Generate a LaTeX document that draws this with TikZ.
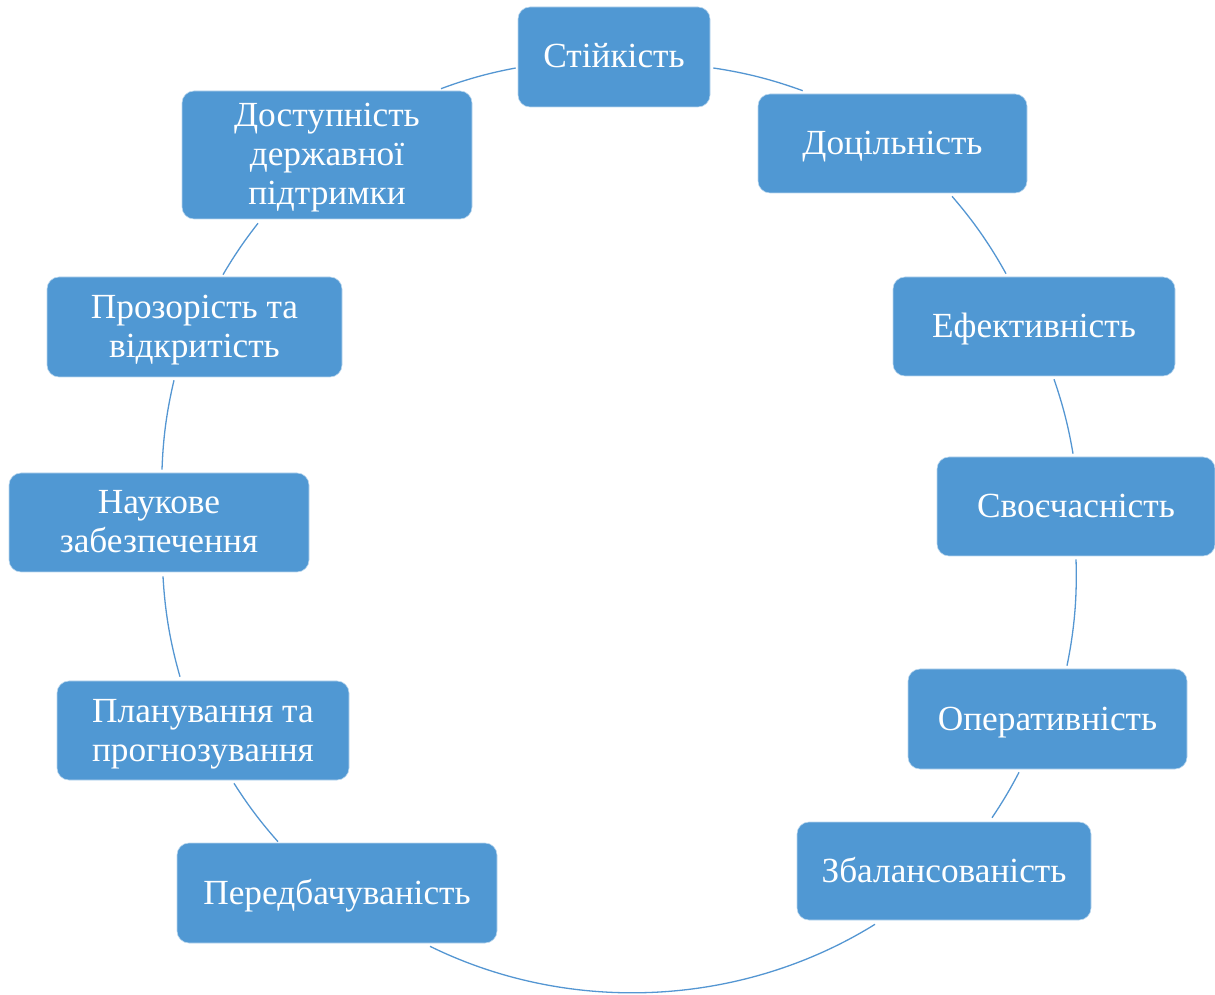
\documentclass[tikz,border=0pt]{standalone}
\usepackage{fontspec}
\setmainfont{Liberation Serif}
\usetikzlibrary{calc}
\definecolor{boxblue}{RGB}{80,152,211}
\definecolor{lineblue}{RGB}{84,150,210}
\newcommand\lnstrut{\rule[-8pt]{0pt}{38pt}}
\tikzset{
  stage/.style={rectangle, rounded corners=12pt, fill=boxblue, draw=white!60!boxblue, line width=0.6pt,
    text=white, align=center, inner sep=0pt, font=\fontsize{35.3}{37.5}\selectfont},
  ring/.style={draw=lineblue, line width=1.3pt, looseness=0.9},
}
\begin{document}
\begin{tikzpicture}[x=1pt,y=1pt]
\useasboundingbox (0,0) rectangle (1215,994);
\node[stage, minimum width=192pt, minimum height=100pt] (n1) at (614,937) {\lnstrut Стійкість};
\node[stage, minimum width=269pt, minimum height=99pt] (n2) at (892.5,850.5) {\lnstrut Доцільність};
\node[stage, minimum width=282pt, minimum height=99pt] (n3) at (1034,667.5) {\lnstrut Ефективність};
\node[stage, minimum width=278pt, minimum height=99pt] (n4) at (1076,487.5) {\lnstrut Своєчасність};
\node[stage, minimum width=279pt, minimum height=100pt] (n5) at (1047.5,275) {\lnstrut Оперативність};
\node[stage, minimum width=294pt, minimum height=98pt] (n6) at (944,123) {\lnstrut Збалансованість};
\node[stage, minimum width=320pt, minimum height=100pt] (n7) at (337,101) {\lnstrut Передбачуваність};
\node[stage, minimum width=292pt, minimum height=99pt] (n8) at (203,263.5) {\lnstrut Планування та\\\lnstrut прогнозування};
\node[stage, minimum width=300pt, minimum height=99pt] (n9) at (159,471.5) {\lnstrut Наукове\\\lnstrut забезпечення};
\node[stage, minimum width=295pt, minimum height=100pt] (n10) at (194.5,667) {\lnstrut Прозорість та\\\lnstrut відкритість};
\node[stage, minimum width=290pt, minimum height=128pt] (n11) at (327,839) {\lnstrut Доступність\\\lnstrut державної\\\lnstrut підтримки};

\coordinate (s1a) at ($(n1.east)+(3,-11)$);
\coordinate (s1b) at ($(n2.north west)+(45,3)$);
\coordinate (s2a) at ($(n2.south)+(59.5,-3)$);
\coordinate (s2b) at ($(n3.north)+(-28,3)$);
\coordinate (s3a) at ($(n3.south)+(20,-3)$);
\coordinate (s3b) at ($(n4.north)+(-3,3)$);
\coordinate (s4a) at ($(n4.south)+(0,-3)$);
\coordinate (s4b) at ($(n5.north)+(19.5,3)$);
\coordinate (s5a) at ($(n5.south)+(-28.5,-3)$);
\coordinate (s5b) at ($(n6.north)+(48,4)$);
\coordinate (s6a) at ($(n6.south)+(-69,-4)$);
\coordinate (s6b) at ($(n7.south)+(93,-3)$);
\coordinate (s7a) at ($(n7.north)+(-59,1)$);
\coordinate (s7b) at ($(n8.south)+(31,-3)$);
\coordinate (s8a) at ($(n8.north)+(-23,4)$);
\coordinate (s8b) at ($(n9.south)+(4,-4)$);
\coordinate (s9a) at ($(n9.north)+(3,3)$);
\coordinate (s9b) at ($(n10.south)+(-20.5,-3)$);
\coordinate (s10a) at ($(n10.north)+(28.5,2)$);
\coordinate (s10b) at ($(n11.south)+(-69,-4)$);
\coordinate (s11a) at ($(n11.north)+(114,2)$);
\coordinate (s11b) at ($(n1.west)+(-2,-11)$);

\draw[ring] (s1a) to[bend left=5.8] (s1b);
\draw[ring] (s2a) to[bend left=5.9] (s2b);
\draw[ring] (s3a) to[bend left=4.8] (s3b);
\draw[ring] (s4a) to[bend left=6.7] (s4b);
\draw[ring] (s5a) to[bend left=3.3] (s5b);
\draw[ring] (s6a) to[bend left=29] (s6b);
\draw[ring] (s7a) to[bend left=4.6] (s7b);
\draw[ring] (s8a) to[bend left=6.4] (s8b);
\draw[ring] (s9a) to[bend left=5.7] (s9b);
\draw[ring] (s10a) to[bend left=3.9] (s10b);
\draw[ring] (s11a) to[bend left=4.9] (s11b);
\end{tikzpicture}
\end{document}
